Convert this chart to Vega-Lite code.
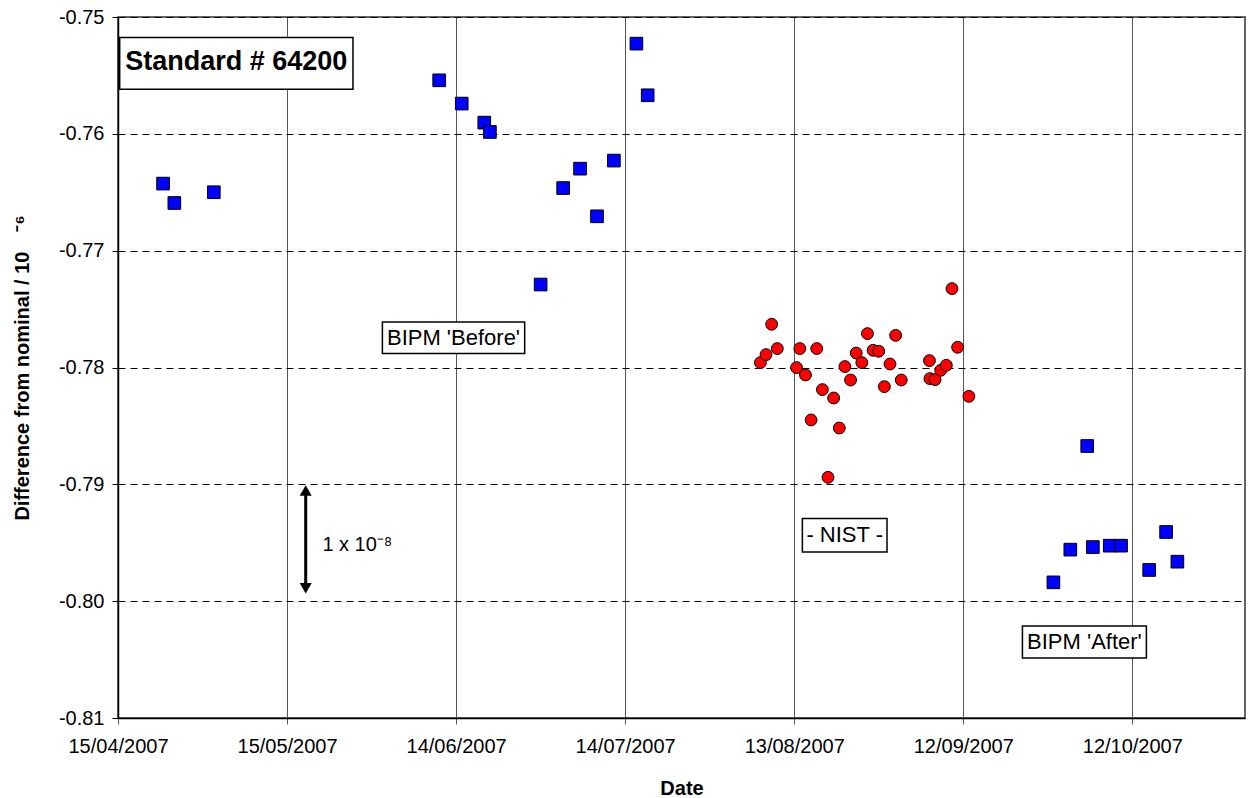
{
  "$schema": "https://vega.github.io/schema/vega-lite/v6.json",
  "width": 1127,
  "height": 701,
  "autosize": {"type": "none"},
  "padding": {"left": 118, "top": 17, "right": 4, "bottom": 80},
  "background": "white",
  "config": {
    "font": "Liberation Sans",
    "view": {"stroke": "#333333", "strokeWidth": 1.5}
  },
  "datasets": {
    "bipm": [
      {"date": "2007-04-23T00:00:00", "value": -0.76426},
      {"date": "2007-04-25T00:00:00", "value": -0.76592},
      {"date": "2007-05-02T00:00:00", "value": -0.76500},
      {"date": "2007-06-11T00:00:00", "value": -0.75542},
      {"date": "2007-06-15T00:00:00", "value": -0.75741},
      {"date": "2007-06-19T00:00:00", "value": -0.75904},
      {"date": "2007-06-20T00:00:00", "value": -0.75984},
      {"date": "2007-06-29T00:00:00", "value": -0.77290},
      {"date": "2007-07-03T00:00:00", "value": -0.76464},
      {"date": "2007-07-06T00:00:00", "value": -0.76298},
      {"date": "2007-07-09T00:00:00", "value": -0.76706},
      {"date": "2007-07-12T00:00:00", "value": -0.76229},
      {"date": "2007-07-16T00:00:00", "value": -0.75228},
      {"date": "2007-07-18T00:00:00", "value": -0.75670},
      {"date": "2007-09-28T00:00:00", "value": -0.79839},
      {"date": "2007-10-01T00:00:00", "value": -0.79559},
      {"date": "2007-10-04T00:00:00", "value": -0.78672},
      {"date": "2007-10-05T00:00:00", "value": -0.79537},
      {"date": "2007-10-08T00:00:00", "value": -0.79525},
      {"date": "2007-10-10T00:00:00", "value": -0.79525},
      {"date": "2007-10-15T00:00:00", "value": -0.79733},
      {"date": "2007-10-18T00:00:00", "value": -0.79408},
      {"date": "2007-10-20T00:00:00", "value": -0.79662}
    ],
    "nist": [
      {"date": "2007-08-07T00:00:00", "value": -0.77958},
      {"date": "2007-08-08T00:00:00", "value": -0.77890},
      {"date": "2007-08-09T00:00:00", "value": -0.77630},
      {"date": "2007-08-10T00:00:00", "value": -0.77838},
      {"date": "2007-08-13T10:00:00", "value": -0.78001},
      {"date": "2007-08-14T00:00:00", "value": -0.77838},
      {"date": "2007-08-15T00:00:00", "value": -0.78064},
      {"date": "2007-08-16T00:00:00", "value": -0.78449},
      {"date": "2007-08-17T00:00:00", "value": -0.77838},
      {"date": "2007-08-18T00:00:00", "value": -0.78189},
      {"date": "2007-08-19T00:00:00", "value": -0.78940},
      {"date": "2007-08-20T00:00:00", "value": -0.78261},
      {"date": "2007-08-21T00:00:00", "value": -0.78518},
      {"date": "2007-08-22T00:00:00", "value": -0.77992},
      {"date": "2007-08-23T00:00:00", "value": -0.78107},
      {"date": "2007-08-24T00:00:00", "value": -0.77876},
      {"date": "2007-08-25T00:00:00", "value": -0.77958},
      {"date": "2007-08-26T00:00:00", "value": -0.77710},
      {"date": "2007-08-27T00:00:00", "value": -0.77853},
      {"date": "2007-08-28T00:00:00", "value": -0.77861},
      {"date": "2007-08-29T00:00:00", "value": -0.78164},
      {"date": "2007-08-30T00:00:00", "value": -0.77970},
      {"date": "2007-08-31T00:00:00", "value": -0.77725},
      {"date": "2007-09-01T00:00:00", "value": -0.78107},
      {"date": "2007-09-06T00:00:00", "value": -0.77941},
      {"date": "2007-09-06T02:00:00", "value": -0.78095},
      {"date": "2007-09-07T00:00:00", "value": -0.78104},
      {"date": "2007-09-08T00:00:00", "value": -0.78024},
      {"date": "2007-09-09T00:00:00", "value": -0.77981},
      {"date": "2007-09-10T00:00:00", "value": -0.77325},
      {"date": "2007-09-11T00:00:00", "value": -0.77827},
      {"date": "2007-09-13T00:00:00", "value": -0.78247}
    ],
    "boxes": [
      {"date": "2007-04-15T07:12:00", "date2": "2007-05-26T16:48:00", "value": -0.751763, "value2": -0.756189, "label": "Standard # 64200"},
      {"date": "2007-05-31T22:05:00", "date2": "2007-06-26T04:05:00", "value": -0.776106, "value2": -0.778811, "label": "BIPM 'Before'"},
      {"date": "2007-08-14T10:48:00", "date2": "2007-08-29T11:17:00", "value": -0.792934, "value2": -0.795793, "label": "- NIST -"},
      {"date": "2007-09-22T12:00:00", "date2": "2007-10-14T12:00:00", "value": -0.802127, "value2": -0.804866, "label": "BIPM 'After'"}
    ],
    "titlebox": [
      {"date": "2007-05-06T00:00:00", "value": -0.753852, "label": "Standard # 64200"}
    ],
    "labels": [
      {"date": "2007-06-13T13:00:00", "value": -0.777459, "label": "BIPM 'Before'"},
      {"date": "2007-08-21T23:00:00", "value": -0.794364, "label": "- NIST -"},
      {"date": "2007-10-03T12:00:00", "value": -0.803497, "label": "BIPM 'After'"}
    ],
    "scalelabel": [
      {"date": "2007-05-21T06:29:00", "value": -0.795221, "label": "1 x 10⁻⁸"}
    ],
    "arrow": [
      {"date": "2007-05-18T07:26:00", "value": -0.7906, "value2": -0.7988}
    ],
    "arrowheads": [
      {"date": "2007-05-18T07:26:00", "value": -0.790529, "end": "top"},
      {"date": "2007-05-18T07:26:00", "value": -0.798900, "end": "bottom"}
    ]
  },
  "layer": [
    {
      "data": {"name": "bipm"},
      "mark": {"type": "point", "shape": "square", "filled": true, "fill": "#0000FF", "stroke": "black", "strokeWidth": 1, "size": 160, "opacity": 1},
      "encoding": {
        "x": {
          "field": "date", "type": "temporal",
          "scale": {"domain": [{"year": 2007, "month": 4, "date": 15}, {"year": 2007, "month": 11, "date": 1}], "nice": false},
          "axis": {
            "title": "Date",
            "values": [
              {"year": 2007, "month": 4, "date": 15},
              {"year": 2007, "month": 5, "date": 15},
              {"year": 2007, "month": 6, "date": 14},
              {"year": 2007, "month": 7, "date": 14},
              {"year": 2007, "month": 8, "date": 13},
              {"year": 2007, "month": 9, "date": 12},
              {"year": 2007, "month": 10, "date": 12}
            ],
            "format": "%d/%m/%Y",
            "grid": true, "gridColor": "#555555", "gridWidth": 1,
            "domainColor": "black", "domainWidth": 1.5,
            "tickColor": "#555555", "tickSize": 6, "tickWidth": 1,
            "labelFontSize": 20, "labelPadding": 12, "labelColor": "black",
            "labelFlush": false, "labelOverlap": false,
            "titleFontSize": 20, "titleFontWeight": "bold", "titleColor": "black",
            "titleY": 70, "titleBaseline": "middle"
          }
        },
        "y": {
          "field": "value", "type": "quantitative",
          "scale": {"domain": [-0.81, -0.75], "nice": false, "zero": false},
          "axis": {
            "title": "Difference from nominal / 10\u2002\u2002⁻⁶",
            "values": [-0.81, -0.8, -0.79, -0.78, -0.77, -0.76, -0.75],
            "format": ".2f",
            "labelExpr": "replace(datum.label, '−', '-')",
            "grid": true, "gridColor": "black", "gridDash": [7, 5], "gridWidth": 1,
            "domainColor": "black", "domainWidth": 1.5,
            "tickColor": "black", "tickSize": 6, "tickWidth": 1,
            "labelFontSize": 20, "labelPadding": 8, "labelColor": "black",
            "titleFontSize": 20, "titleFontWeight": "bold", "titleColor": "black",
            "titleX": -96, "titleY": 350.5, "titleAngle": 270,
            "titleAlign": "center", "titleBaseline": "middle"
          }
        }
      }
    },
    {
      "data": {"name": "nist"},
      "mark": {"type": "point", "shape": "circle", "filled": true, "fill": "#FF0000", "stroke": "black", "strokeWidth": 1, "size": 140, "opacity": 1},
      "encoding": {
        "x": {"field": "date", "type": "temporal"},
        "y": {"field": "value", "type": "quantitative"}
      }
    },
    {
      "data": {"name": "boxes"},
      "mark": {"type": "rect", "fill": "white", "stroke": "black", "strokeWidth": 1.5},
      "encoding": {
        "x": {"field": "date", "type": "temporal"},
        "x2": {"field": "date2"},
        "y": {"field": "value", "type": "quantitative"},
        "y2": {"field": "value2"}
      }
    },
    {
      "data": {"name": "titlebox"},
      "mark": {"type": "text", "fontSize": 27, "fontWeight": "bold", "align": "center", "baseline": "middle", "color": "black"},
      "encoding": {
        "x": {"field": "date", "type": "temporal"},
        "y": {"field": "value", "type": "quantitative"},
        "text": {"field": "label"}
      }
    },
    {
      "data": {"name": "labels"},
      "mark": {"type": "text", "fontSize": 22, "align": "center", "baseline": "middle", "color": "black"},
      "encoding": {
        "x": {"field": "date", "type": "temporal"},
        "y": {"field": "value", "type": "quantitative"},
        "text": {"field": "label"}
      }
    },
    {
      "data": {"name": "scalelabel"},
      "mark": {"type": "text", "fontSize": 20, "align": "left", "baseline": "middle", "color": "black"},
      "encoding": {
        "x": {"field": "date", "type": "temporal"},
        "y": {"field": "value", "type": "quantitative"},
        "text": {"field": "label"}
      }
    },
    {
      "data": {"name": "arrow"},
      "mark": {"type": "rule", "strokeWidth": 3, "color": "black"},
      "encoding": {
        "x": {"field": "date", "type": "temporal"},
        "y": {"field": "value", "type": "quantitative"},
        "y2": {"field": "value2"}
      }
    },
    {
      "data": {"name": "arrowheads"},
      "transform": [{"filter": "datum.end === 'top'"}],
      "mark": {"type": "point", "shape": "triangle-up", "filled": true, "color": "black", "size": 144, "opacity": 1},
      "encoding": {
        "x": {"field": "date", "type": "temporal"},
        "y": {"field": "value", "type": "quantitative"}
      }
    },
    {
      "data": {"name": "arrowheads"},
      "transform": [{"filter": "datum.end === 'bottom'"}],
      "mark": {"type": "point", "shape": "triangle-down", "filled": true, "color": "black", "size": 144, "opacity": 1},
      "encoding": {
        "x": {"field": "date", "type": "temporal"},
        "y": {"field": "value", "type": "quantitative"}
      }
    }
  ]
}
